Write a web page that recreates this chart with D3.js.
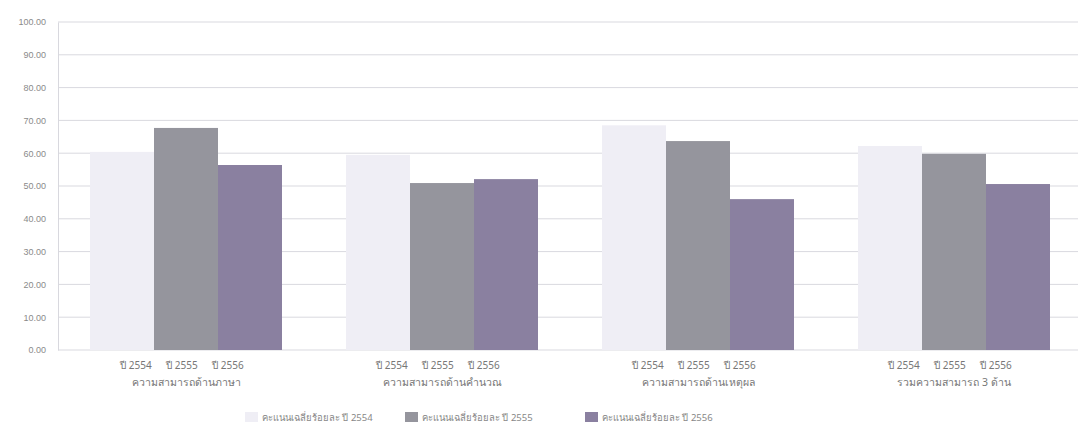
<!DOCTYPE html>
<html>
<head>
<meta charset="utf-8">
<script src="https://cdn.jsdelivr.net/npm/d3@7"></script>
<style>
  body { margin: 0; background: #fff; }
  svg { font-family: "Noto Sans", "DejaVu Sans", sans-serif; }
</style>
</head>
<body>
<svg width="1078" height="432"></svg>
<script>
// data
const categories = ["ความสามารถด้านภาษา", "ความสามารถด้านคำนวณ", "ความสามารถด้านเหตุผล", "รวมความสามารถ 3 ด้าน"];
const years = ["ปี 2554", "ปี 2555", "ปี 2556"];
const seriesNames = ["คะแนนเฉลี่ยร้อยละ ปี 2554", "คะแนนเฉลี่ยร้อยละ ปี 2555", "คะแนนเฉลี่ยร้อยละ ปี 2556"];
const values2554 = [60.4, 59.5, 68.5, 62.2];
const values2555 = [67.7, 50.9, 63.7, 59.8];
const values2556 = [56.4, 52.1, 46.0, 50.6];
const yTicks = [0, 10, 20, 30, 40, 50, 60, 70, 80, 90, 100];
const colors = ["#efeef5", "#95959d", "#8a80a0"];

const series = [values2554, values2555, values2556];

let svg = d3.select("svg");
const plotLeft = 58, plotRight = 1082, plotTop = 22, plotBottom = 350;

let x0 = d3.scaleBand().domain(categories).range([plotLeft, plotRight]).paddingInner(0.25).paddingOuter(0.125);
let x1 = d3.scaleBand().domain([0, 1, 2]).range([0, x0.bandwidth()]);
let y = d3.scaleLinear().domain([0, 100]).range([plotBottom, plotTop]);

// grid
svg.append("g")
    .selectAll("line")
    .data(yTicks)
    .join("line")
    .attr("x1", plotLeft).attr("x2", plotRight)
    .attr("y1", d => y(d)).attr("y2", d => y(d))
    .attr("stroke", "#d9d9df")
    .attr("stroke-width", 1);

// y axis labels
let yAxis = svg.append("g")
    .attr("transform", `translate(${plotLeft},0)`)
    .call(d3.axisLeft(y).tickValues(yTicks).tickFormat(d3.format(".2f")).tickSize(0).tickPadding(12));
yAxis.select(".domain").attr("stroke", "#d8d8de");
yAxis.selectAll("text").attr("fill", "#8a8a8a").attr("font-size", 9);

// bars
let groups = svg.append("g")
    .selectAll("g")
    .data(categories)
    .join("g")
    .attr("transform", d => `translate(${x0(d)},0)`);

groups.selectAll("rect")
    .data((d, i) => series.map((s, k) => ({k: k, v: s[i]})))
    .join("rect")
    .attr("x", d => x1(d.k))
    .attr("width", x1.bandwidth())
    .attr("y", d => y(d.v))
    .attr("height", d => plotBottom - y(d.v))
    .attr("fill", d => colors[d.k]);

// year labels row, packed round the group centre
groups.selectAll("text.year")
    .data(years)
    .join("text")
    .attr("class", "year")
    .attr("x", (d, k) => x0.bandwidth() / 2 - 4 + (k - 1) * 46)
    .attr("y", 369)
    .attr("text-anchor", "middle")
    .attr("font-size", 10)
    .attr("fill", "#777")
    .text(d => d);

groups.append("text")
    .attr("x", x0.bandwidth() / 2)
    .attr("y", 386)
    .attr("text-anchor", "middle")
    .attr("font-size", 10.5)
    .attr("fill", "#777")
    .text(d => d);

// legend
let legend = svg.append("g").attr("transform", "translate(245,421)");
let offs = [0, 160, 340];
seriesNames.forEach((name, i) => {
    let g = legend.append("g").attr("transform", `translate(${offs[i]},0)`);
    g.append("rect").attr("x", 0).attr("y", -9).attr("width", 13).attr("height", 10).attr("fill", colors[i]);
    g.append("text").attr("x", 17).attr("y", 0).attr("font-size", 9.5).attr("fill", "#888").text(name);
});
</script>
</body>
</html>
